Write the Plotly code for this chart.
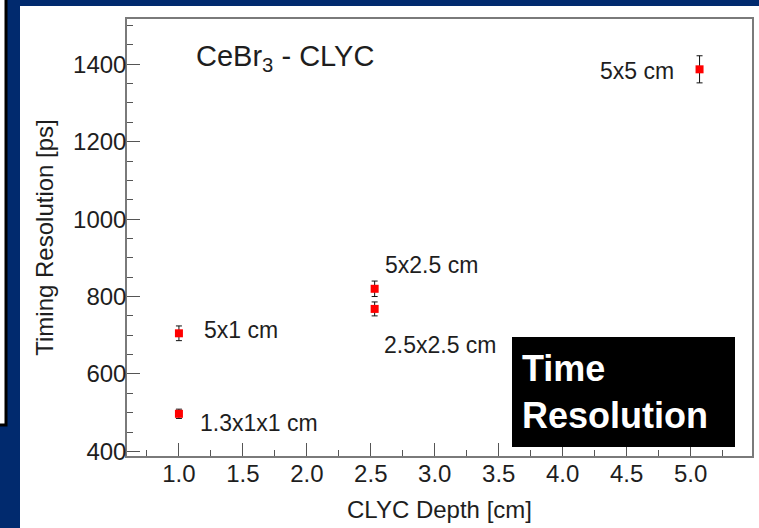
import plotly.graph_objects as go

# Measured timing resolution vs. CLYC crystal depth (CeBr3 - CLYC pairs)
depth_cm = [1.0, 1.0, 2.53, 2.53, 5.07]
timing_ps = [497, 705, 768, 820, 1387]
timing_err_ps = [12, 19, 18, 20, 35]
crystal_sizes = ["1.3x1x1 cm", "5x1 cm", "2.5x2.5 cm", "5x2.5 cm", "5x5 cm"]

# where each crystal-size label sits (data coordinates, left-anchored)
label_x = [1.148, 1.18, 2.585, 2.595, 4.275]
label_y = [474, 714, 675, 882, 1383]

x_range = [0.594, 5.48]
y_range = [388, 1517]

NAVY = "#012a6e"
FONT = "Liberation Sans, Arial, Helvetica, sans-serif"
INK = "#1e1e1e"

W, H = 759, 528
L, R, T, B = 127, 7, 19, 72
pw, ph = W - L - R, H - T - B


def px(x):
    return (x - L) / pw


def py(y):
    return (H - B - y) / ph


fig = go.Figure()

fig.add_trace(go.Scatter(
    x=depth_cm,
    y=timing_ps,
    mode="markers",
    marker=dict(symbol="square", size=8, color="#ff0000", line=dict(width=0)),
    error_y=dict(type="data", array=timing_err_ps, visible=True,
                 color="#111111", thickness=1, width=3),
    showlegend=False,
    hoverinfo="x+y",
))

annotations = []
for txt, lx, ly in zip(crystal_sizes, label_x, label_y):
    annotations.append(dict(
        x=lx, y=ly, xref="x", yref="y", text=txt, showarrow=False,
        xanchor="left", yanchor="middle",
        font=dict(family=FONT, size=23, color=INK),
    ))

annotations.append(dict(
    x=1.12, y=1415, xref="x", yref="y", text="CeBr<sub>3</sub> - CLYC",
    showarrow=False, xanchor="left", yanchor="middle",
    font=dict(family=FONT, size=29, color=INK),
))

annotations.append(dict(
    x=px(520), y=py(392), xref="paper", yref="paper",
    text="<b>Time<br>Resolution</b>", showarrow=False,
    xanchor="left", yanchor="middle", align="left",
    font=dict(family=FONT, size=36, color="white"),
))

shapes = [
    # slide card behind the chart
    dict(type="rect", xref="paper", yref="paper", layer="below",
         x0=px(20), x1=px(W + 5), y0=py(H + 5), y1=py(6),
         fillcolor="white", line=dict(width=0)),
    # edge of the neighbouring box on the left
    dict(type="rect", xref="paper", yref="paper", layer="below",
         x0=px(-10), x1=px(6), y0=py(425), y1=py(-10),
         fillcolor="white", line=dict(color="black", width=3)),
    # caption box
    dict(type="rect", xref="paper", yref="paper", layer="above",
         x0=px(512), x1=px(735), y0=py(447), y1=py(337),
         fillcolor="black", line=dict(width=0)),
]

axis_common = dict(
    showgrid=False, zeroline=False, showline=True, mirror=True,
    linecolor="#7a7a7a", linewidth=1.5,
    ticks="inside", ticklen=13, tickwidth=1, tickcolor="#555555",
    tickfont=dict(family=FONT, size=24, color=INK),
    automargin=False,
)

fig.update_layout(
    width=W, height=H,
    margin=dict(l=L, r=R, t=T, b=B, pad=0),
    paper_bgcolor=NAVY,
    plot_bgcolor="white",
    font=dict(family=FONT, color=INK),
    xaxis=dict(
        range=x_range, tick0=0, dtick=0.5, tickformat=".1f",
        ticklabelstandoff=-5,
        minor=dict(ticks="inside", ticklen=6, dtick=0.25, tickcolor="#555555", tickwidth=1),
        title=dict(text="CLYC Depth [cm]", standoff=16,
                   font=dict(family=FONT, size=24, color=INK)),
        **axis_common,
    ),
    yaxis=dict(
        range=y_range, tick0=0, dtick=200,
        ticklabelstandoff=-6,
        minor=dict(ticks="inside", ticklen=6, dtick=50, tickcolor="#555555", tickwidth=1),
        title=dict(text="Timing Resolution [ps]", standoff=13,
                   font=dict(family=FONT, size=24, color=INK)),
        **axis_common,
    ),
    annotations=annotations,
    shapes=shapes,
)

fig.write_html("out.html")
